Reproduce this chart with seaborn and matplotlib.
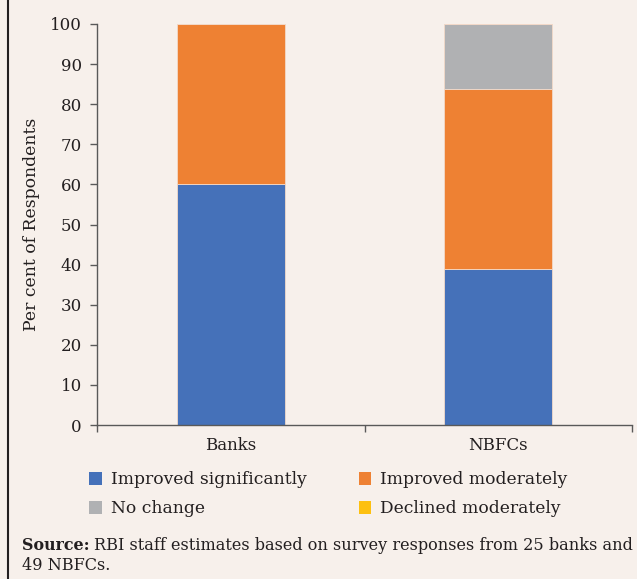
import numpy as np
import pandas as pd
import matplotlib
matplotlib.use("Agg")
import matplotlib.pyplot as plt
from matplotlib.lines import Line2D
from matplotlib.patches import Patch
import seaborn as sns

# Survey responses (per cent of respondents)
groups = ["Banks", "NBFCs"]
improved_significantly = [60.0, 38.8]
improved_moderately = [40.0, 44.9]
no_change = [0.0, 16.3]
declined_moderately = [0.0, 0.0]

series_names = ["Improved significantly", "Improved moderately",
                "No change", "Declined moderately"]
series_values = [improved_significantly, improved_moderately,
                 no_change, declined_moderately]
colors = ["#4571B9", "#EE8133", "#B0B1B3", "#FDC010"]

bg = "#F7F0EB"
txt = "#231F20"
sns.set_theme(style="white")
plt.rcParams["font.family"] = ["DejaVu Serif"]

fig = plt.figure(figsize=(6.37, 5.79), dpi=100, facecolor=bg)
ax = fig.add_axes([97 / 637, 1 - 425 / 579, 535 / 637, 401 / 579])
ax.set_facecolor(bg)

bottom = np.zeros(len(groups))
for name, vals, col in zip(series_names, series_values, colors):
    df = pd.DataFrame({"group": groups, "value": vals})
    sns.barplot(data=df, x="group", y="value", color=col, width=0.404,
                bottom=bottom, ax=ax, edgecolor="#F3D9C8", linewidth=0.6,
                saturation=1)
    bottom = bottom + np.array(vals)

ax.set_xlim(-0.5, 1.5)
ax.set_ylim(0, 100)
ax.set_yticks(range(0, 101, 10))
ax.set_xlabel("")
ax.set_ylabel("Per cent of Respondents", fontsize=12.4, color=txt, labelpad=7)

for s in ["top", "right"]:
    ax.spines[s].set_visible(False)
for s in ["left", "bottom"]:
    ax.spines[s].set_color("#595959")
    ax.spines[s].set_linewidth(1.0)

ax.tick_params(axis="y", which="both", left=True, length=5, width=1,
               color="#595959", labelsize=12, labelcolor=txt, pad=6)
ax.set_xticks([0, 1])
ax.set_xticklabels(groups)
ax.tick_params(axis="x", which="major", bottom=False, labelsize=12,
               labelcolor=txt, pad=3)
ax.set_xticks([-0.5, 0.5, 1.5], minor=True)
ax.tick_params(axis="x", which="minor", bottom=True, length=5, width=1,
               color="#595959")

# legend laid out row by row
handles = [Patch(facecolor=c, edgecolor="none") for c in colors]
order = [0, 2, 1, 3]
fig.legend([handles[i] for i in order], [series_names[i] for i in order],
           ncol=2, loc="upper left",
           bbox_to_anchor=(74 / 637, 1 - 456 / 579), frameon=False,
           fontsize=12.3, handlelength=0.75, handleheight=0.75,
           handletextpad=0.5, columnspacing=3.05, labelspacing=0.7,
           labelcolor=txt)

src = fig.text(22 / 637, 1 - 545 / 579, "Source:", fontsize=11.4,
               fontweight="bold", color=txt, va="center", ha="left")
fig.canvas.draw()
bb = src.get_window_extent()
fig.text((bb.x1 + 4) / 637, 1 - 545 / 579,
         "RBI staff estimates based on survey responses from 25 banks and",
         fontsize=11.6, color=txt, va="center", ha="left")
fig.text(22 / 637, 1 - 565 / 579, "49 NBFCs.", fontsize=11.6,
         color=txt, va="center", ha="left")

# left frame rule
fig.add_artist(Line2D([7.5 / 637, 7.5 / 637], [0, 1], transform=fig.transFigure,
                      color=txt, linewidth=1.5))

fig.savefig("out.png", dpi=100, facecolor=bg)
